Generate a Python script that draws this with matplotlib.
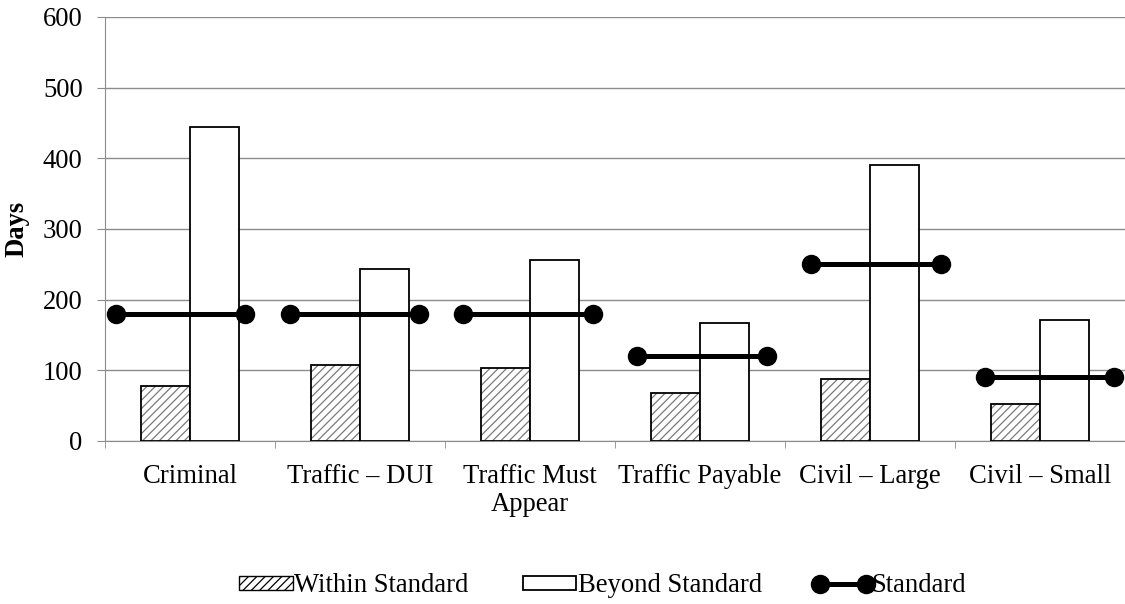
import matplotlib.pyplot as plt
import numpy as np
from matplotlib.patches import Patch
from matplotlib.lines import Line2D
from matplotlib.legend_handler import HandlerLine2D

categories = ["Criminal", "Traffic \u2013 DUI", "Traffic Must\nAppear",
              "Traffic Payable", "Civil \u2013 Large", "Civil \u2013 Small"]
within = [78, 108, 103, 68, 87, 52]
beyond = [445, 244, 256, 167, 390, 171]
standard = [180, 180, 180, 120, 250, 90]

plt.rcParams['font.family'] = ['Liberation Serif', 'DejaVu Serif']
plt.rcParams['font.size'] = 19.2
plt.rcParams['hatch.linewidth'] = 0.9

fig = plt.figure(figsize=(11.25, 6.04), dpi=100)
ax = fig.add_axes([0.0933, 0.2699, 0.9067, 0.702])

x = np.arange(len(categories))
w = 0.288
grid_grey = '#8c8c8c'

# hatched fill first, outline on top so the edges stay black
ax.bar(x - w / 2, within, w, color='white', hatch='////', edgecolor='#7a7a7a',
       linewidth=0, zorder=2)
ax.bar(x - w / 2, within, w, fill=False, edgecolor='black', linewidth=1.3, zorder=3)
ax.bar(x + w / 2, beyond, w, color='white', edgecolor='black', linewidth=1.3, zorder=3)

# standard lines sit on a slightly wider spacing than the categories
step = 1.0222
for i, s in enumerate(standard):
    x0 = -0.4355 + i * step
    ax.plot([x0, x0 + 0.762], [s, s], color='black', lw=3.6, marker='o',
            markersize=13, zorder=4, clip_on=False)

ax.set_xlim(-0.5, 5.5)
ax.set_ylim(0, 600)
ax.set_yticks(range(0, 601, 100))
ax.set_xticks(x)
ax.set_xticklabels(categories, linespacing=1.18)
ax.set_xticks(np.arange(-0.5, 5.6, 1), minor=True)
ax.tick_params(axis='x', which='major', length=0, pad=16.5)
ax.tick_params(axis='x', which='minor', length=5, color=grid_grey)
ax.tick_params(axis='y', length=6, color=grid_grey, pad=10, direction='out')
ax.grid(axis='y', color=grid_grey, lw=1, zorder=0)
ax.set_axisbelow(True)
for side in ['top', 'right']:
    ax.spines[side].set_visible(False)
for side in ['left', 'bottom']:
    ax.spines[side].set_color(grid_grey)
ax.set_ylabel("Days", fontweight='bold')
ax.yaxis.set_label_coords(-0.0735, 0.5)

std_handle = Line2D([0], [0], color='black', lw=3.6, marker='o', markersize=13)
handles = [
    Patch(facecolor='white', edgecolor='black', hatch='////', lw=1),
    Patch(facecolor='white', edgecolor='black', lw=1.3),
    std_handle,
]
fig.legend(handles, ["Within Standard", "Beyond Standard", "Standard"],
           loc='center', bbox_to_anchor=(0.5356, 0.03), ncol=3, frameon=False,
           handlelength=2.0, handleheight=0.45, handletextpad=0.05,
           columnspacing=2.05,
           handler_map={std_handle: HandlerLine2D(marker_pad=0.15, numpoints=2)})

fig.savefig("out.png", dpi=100)
